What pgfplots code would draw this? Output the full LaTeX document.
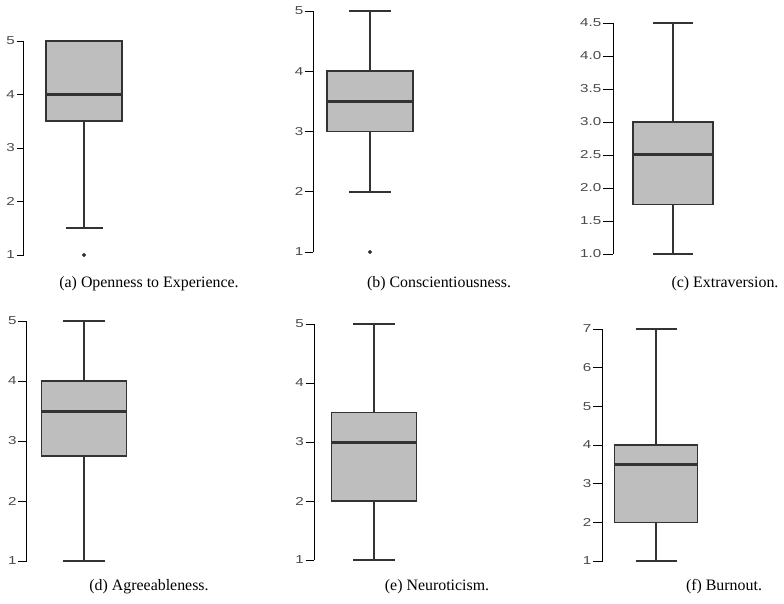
\documentclass[border=0pt]{standalone}
\usepackage{fontspec}
\setmainfont{Liberation Serif}
\newfontfamily\ticksans{Liberation Sans}
\usepackage{graphicx}
\usepackage{pgfplots}
\pgfplotsset{compat=1.18}
\usepgfplotslibrary{statistics}
\definecolor{boxgray}{HTML}{BEBEBE}
\definecolor{boxline}{HTML}{333333}
\definecolor{tickgray}{HTML}{4A4A4A}
\newcommand{\tl}[1]{{\ticksans\fontsize{11.5}{13}\selectfont\scalebox{1.32}[1]{#1}}}
\pgfplotsset{
  rbox/.style={
    scale only axis,
    axis y line*=left,
    axis x line=none,
    xtick=\empty,
    enlargelimits=false,
    clip=false,
    tick align=outside,
    major tick length=8pt,
    ytick style={black, line width=0.9pt},
    axis line style={black, line width=0.9pt},
    /pgf/number format/assume math mode=true,
    yticklabel style={text=tickgray, inner sep=1.5pt},
    yticklabel={\tl{\pgfmathprintnumber{\tick}}},
    boxplot/draw direction=y,
    boxplot/every box/.style={draw=boxline, fill=boxgray, line width=1.6pt},
    boxplot/every median/.style={draw=boxline, line width=3pt},
    boxplot/every whisker/.style={draw=boxline, line width=1.6pt},
  },
  outl/.style={draw=boxline, mark=*, mark size=1.8pt, mark options={fill=boxline, draw=boxline, line width=0.4pt}},
}
\newcommand{\capfont}{\fontsize{15.9}{18}\selectfont}
\begin{document}
\begin{tikzpicture}
\path[use as bounding box] (0,0) rectangle (784pt,603pt);

% (a) Openness to Experience
\begin{axis}[rbox, at={(23.5pt,348pt)}, anchor=south west, major tick length=7pt,
  width=200pt, height=214pt, xmin=23.5, xmax=223.5, ymin=1, ymax=5, ytick={1,2,3,4,5}]
\addplot[outl, boxplot prepared={draw position=84, lower whisker=1.5, lower quartile=3.5,
  median=4, upper quartile=5, upper whisker=5, box extend=76, whisker extend=37}]
  coordinates {(0,1)};
\end{axis}

% (b) Conscientiousness
\begin{axis}[rbox, at={(313pt,351pt)}, anchor=south west, major tick length=8pt,
  width=200pt, height=241pt, xmin=313, xmax=513, ymin=1, ymax=5, ytick={1,2,3,4,5}]
\addplot[outl, boxplot prepared={draw position=370, lower whisker=2, lower quartile=3,
  median=3.5, upper quartile=4, upper whisker=5, box extend=86, whisker extend=42}]
  coordinates {(0,1)};
\end{axis}

% (c) Extraversion
\begin{axis}[rbox, at={(613pt,349pt)}, anchor=south west, major tick length=10pt,
  width=150pt, height=231pt, xmin=613, xmax=763, ymin=1, ymax=4.5,
  ytick={1,1.5,2,2.5,3,3.5,4,4.5},
  yticklabel={\tl{\pgfmathprintnumber[fixed,fixed zerofill,precision=1]{\tick}}}]
\addplot[outl, boxplot prepared={draw position=673, lower whisker=1, lower quartile=1.75,
  median=2.5, upper quartile=3, upper whisker=4.5, box extend=80, whisker extend=40}]
  coordinates {};
\end{axis}

% (d) Agreeableness
\begin{axis}[rbox, at={(26.5pt,42pt)}, anchor=south west, major tick length=8.3pt,
  width=200pt, height=240pt, xmin=26.5, xmax=226.5, ymin=1, ymax=5, ytick={1,2,3,4,5}]
\addplot[outl, boxplot prepared={draw position=84, lower whisker=1, lower quartile=2.75,
  median=3.5, upper quartile=4, upper whisker=5, box extend=85, whisker extend=42}]
  coordinates {};
\end{axis}

% (e) Neuroticism
\begin{axis}[rbox, at={(314pt,43pt)}, anchor=south west, major tick length=8.5pt,
  width=200pt, height=236pt, xmin=314, xmax=514, ymin=1, ymax=5, ytick={1,2,3,4,5}]
\addplot[outl, boxplot prepared={draw position=374, lower whisker=1, lower quartile=2,
  median=3, upper quartile=3.5, upper whisker=5, box extend=85, whisker extend=42}]
  coordinates {};
\end{axis}

% (f) Burnout
\begin{axis}[rbox, at={(602.5pt,42pt)}, anchor=south west, major tick length=9.5pt,
  width=150pt, height=232pt, xmin=602.5, xmax=752.5, ymin=1, ymax=7, ytick={1,2,3,4,5,6,7}]
\addplot[outl, boxplot prepared={draw position=656, lower whisker=1, lower quartile=2,
  median=3.5, upper quartile=4, upper whisker=7, box extend=83, whisker extend=41}]
  coordinates {};
\end{axis}

\node[font=\capfont, anchor=base] at (149pt,315pt) {(a) Openness to Experience.};
\node[font=\capfont, anchor=base] at (439pt,315pt) {(b) Conscientiousness.};
\node[font=\capfont, anchor=base] at (725pt,315pt) {(c) Extraversion.};
\node[font=\capfont, anchor=base] at (149pt,13pt) {(d) Agreeableness.};
\node[font=\capfont, anchor=base] at (437pt,13pt) {(e) Neuroticism.};
\node[font=\capfont, anchor=base] at (724pt,13pt) {(f) Burnout.};
\end{tikzpicture}
\end{document}
